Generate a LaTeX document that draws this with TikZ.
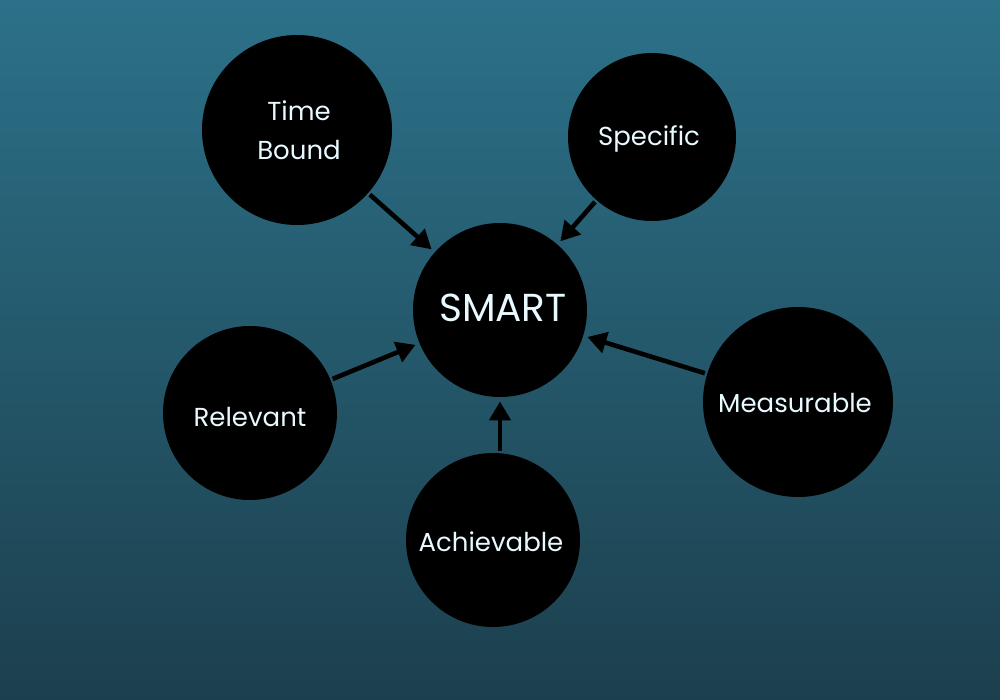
\documentclass[tikz,border=0pt]{standalone}
\usepackage{fontspec}
\setmainfont{Poppins}
\usetikzlibrary{arrows.meta}
\definecolor{bgtop}{HTML}{2C7189}
\definecolor{bgbot}{HTML}{1C3F4D}
\definecolor{txt}{HTML}{E8FAFF}
\tikzset{
  ball/.style={circle, fill=black, inner sep=0pt, text=txt, align=center, font=\fontsize{13}{19.5}\selectfont},
  conn/.style={line width=2.3pt, draw=black, -{Triangle[length=9.5pt,width=10.5pt]}, shorten >=2pt, shorten <=1pt}
}
\begin{document}
\begin{tikzpicture}[x=0.5pt,y=-0.5pt]
\shade[top color=bgtop, bottom color=bgbot] (0,0) rectangle (1000,700);
\useasboundingbox (0,0) rectangle (1000,700);
\node[ball, minimum size=87pt] (smart) at (500,310) {};
\node[text=txt, font=\fontsize{19.5}{22}\selectfont] (smartlbl) at (503,308) {SMART};
\node[ball, minimum size=95pt] (time) at (297,130) {};
\node[ball] (timelbl) at (299,130) {Time\\Bound};
\node[ball, minimum size=84pt] (spec) at (652,137) {};
\node[ball] (speclbl) at (649,139) {Specific};
\node[ball, minimum size=87pt] (rel) at (250,413) {};
\node[ball] (rellbl) at (250,417) {Relevant};
\node[ball, minimum size=95pt] (meas) at (798,402) {};
\node[ball] (measlbl) at (795,403) {Measurable};
\node[ball, minimum size=87pt] (ach) at (493,540) {};
\node[ball] (achlbl) at (491,542) {Achievable};
\draw[conn] (time) -- (smart);
\draw[conn] (spec) -- (smart);
\draw[conn] (rel) -- (smart);
\draw[conn] (meas) -- (smart);
\draw[conn] (ach.north -| smart.south) -- (smart);
\end{tikzpicture}
\end{document}
